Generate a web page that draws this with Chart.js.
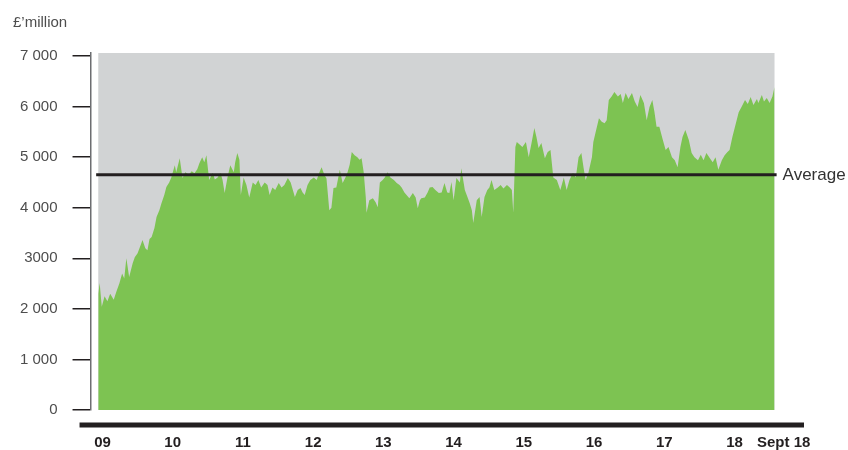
<!DOCTYPE html>
<html lang="en">
<head>
<meta charset="UTF-8">
<title>£’million</title>
<style>
  body { margin: 0; background: #fff; }
  .wrap { position: relative; width: 848px; height: 450px; }
</style>
<script src="https://cdn.jsdelivr.net/npm/chart.js"></script>
</head>
<body>
<div class="wrap">
  <canvas id="chart"></canvas>
</div>
<script>
// --- data ---
const dates = [
  2008.94, 2008.96, 2008.99, 2009.03, 2009.07, 2009.11, 2009.16, 2009.20, 2009.24, 2009.28,
  2009.31, 2009.34, 2009.38, 2009.43, 2009.46, 2009.50, 2009.54, 2009.57, 2009.61, 2009.64,
  2009.67, 2009.70, 2009.74, 2009.77, 2009.81, 2009.84, 2009.88, 2009.91, 2009.95, 2009.98,
  2010.03, 2010.05, 2010.10, 2010.14, 2010.18, 2010.23, 2010.27, 2010.31, 2010.35, 2010.38,
  2010.42, 2010.45, 2010.48, 2010.52, 2010.57, 2010.60, 2010.64, 2010.68, 2010.71, 2010.74,
  2010.78, 2010.82, 2010.87, 2010.89, 2010.92, 2010.95, 2010.97, 2011.01, 2011.05, 2011.09,
  2011.14, 2011.18, 2011.22, 2011.26, 2011.31, 2011.35, 2011.38, 2011.42, 2011.46, 2011.51,
  2011.55, 2011.59, 2011.64, 2011.68, 2011.74, 2011.78, 2011.82, 2011.85, 2011.88, 2011.92,
  2011.96, 2012.01, 2012.05, 2012.09, 2012.12, 2012.16, 2012.19, 2012.23, 2012.26, 2012.29,
  2012.33, 2012.38, 2012.42, 2012.46, 2012.49, 2012.52, 2012.55, 2012.59, 2012.63, 2012.66,
  2012.69, 2012.72, 2012.75, 2012.76, 2012.80, 2012.85, 2012.89, 2012.92, 2012.95, 2012.99,
  2013.02, 2013.06, 2013.10, 2013.15, 2013.19, 2013.23, 2013.26, 2013.30, 2013.33, 2013.37,
  2013.42, 2013.46, 2013.49, 2013.52, 2013.54, 2013.59, 2013.63, 2013.66, 2013.70, 2013.74,
  2013.79, 2013.83, 2013.87, 2013.91, 2013.94, 2013.97, 2014.00, 2014.04, 2014.09, 2014.11,
  2014.16, 2014.20, 2014.23, 2014.26, 2014.28, 2014.33, 2014.37, 2014.40, 2014.44, 2014.48,
  2014.51, 2014.54, 2014.58, 2014.63, 2014.67, 2014.71, 2014.76, 2014.80, 2014.83, 2014.85,
  2014.88, 2014.90, 2014.94, 2014.98, 2015.03, 2015.07, 2015.11, 2015.15, 2015.18, 2015.21,
  2015.25, 2015.30, 2015.34, 2015.38, 2015.42, 2015.47, 2015.52, 2015.57, 2015.61, 2015.65,
  2015.70, 2015.74, 2015.78, 2015.82, 2015.85, 2015.88, 2015.92, 2015.97, 2015.99, 2016.02,
  2016.07, 2016.11, 2016.15, 2016.18, 2016.21, 2016.25, 2016.29, 2016.34, 2016.38, 2016.41,
  2016.45, 2016.49, 2016.54, 2016.58, 2016.62, 2016.66, 2016.71, 2016.75, 2016.79, 2016.83,
  2016.86, 2016.89, 2016.93, 2016.98, 2017.02, 2017.06, 2017.11, 2017.15, 2017.19, 2017.23,
  2017.26, 2017.30, 2017.35, 2017.39, 2017.43, 2017.48, 2017.52, 2017.56, 2017.60, 2017.65,
  2017.69, 2017.73, 2017.77, 2017.82, 2017.86, 2017.90, 2017.93, 2017.97, 2018.02, 2018.06,
  2018.10, 2018.15, 2018.19, 2018.23, 2018.27, 2018.32, 2018.34, 2018.39, 2018.42, 2018.46,
  2018.50, 2018.54, 2018.57
];
const values = [
  2300, 2510, 2040, 2250, 2150, 2300, 2180, 2350, 2500, 2700,
  2600, 3000, 2630, 2900, 3020, 3100, 3250, 3360, 3200, 3160,
  3380, 3420, 3600, 3815, 3950, 4090, 4250, 4410, 4500, 4600,
  4840, 4700, 4980, 4590, 4700, 4650, 4720, 4680, 4760, 4880,
  5000, 4900, 5040, 4550, 4690, 4560, 4600, 4690, 4550, 4290,
  4600, 4840, 4700, 4900, 5080, 4950, 4250, 4600, 4450, 4200,
  4500, 4450, 4550, 4400, 4500, 4450, 4250, 4400, 4350, 4490,
  4400, 4450, 4590, 4500, 4210, 4350, 4390, 4300, 4250, 4450,
  4550, 4600, 4550, 4700, 4800, 4650, 4580, 3950, 4000, 4390,
  4400, 4750, 4490, 4600, 4700, 4850, 5100, 5040, 5000, 4950,
  4980, 4700, 4200, 3900, 4150, 4190, 4110, 4010, 4500, 4550,
  4600, 4700, 4600, 4550, 4490, 4450, 4400, 4300, 4250, 4190,
  4290, 4200, 3990, 4150, 4190, 4200, 4300, 4400, 4410, 4350,
  4290, 4300, 4490, 4300, 4290, 4510, 4150, 4590, 4500, 4780,
  4350, 4200, 4090, 3950, 3700, 4150, 4210, 3815, 4210, 4350,
  4400, 4550, 4350, 4400, 4450, 4380, 4450, 4400, 4350, 3900,
  5200, 5300, 5250, 5200, 5300, 5000, 5280, 5575, 5400, 5180,
  5280, 4980, 5100, 5140, 4600, 4550, 4350, 4600, 4350, 4550,
  4690, 4600, 5000, 5080, 4800, 4550, 4690, 5000, 5300, 5480,
  5770, 5700, 5670, 5730, 6130, 6200, 6290, 6200, 6250, 6070,
  6270, 6150, 6270, 6100, 5990, 6230, 6070, 5730, 5990, 6130,
  5900, 5600, 5600, 5340, 5140, 5200, 5000, 4940, 4800, 5200,
  5400, 5535, 5340, 5080, 5000, 4940, 5050, 4940, 5080, 4980,
  4900, 5000, 4750, 4940, 5040, 5100, 5140, 5400, 5670, 5890,
  5990, 6130, 6050, 6190, 6030, 6150, 6070, 6230, 6100, 6170,
  6070, 6200, 6390
];
const averageValue = 4650;
const averageSpan = [2008.91, 2018.60];
const panelTop = 7060;

const yTickValues = [0, 1000, 2000, 3000, 4000, 5000, 6000, 7000];
const yTickLabels = ['0', '1 000', '2 000', '3000', '4 000', '5 000', '6 000', '7 000'];
const xTickValues = [2009, 2010, 2011, 2012, 2013, 2014, 2015, 2016, 2017, 2018, 2018.7];
const xTickLabels = ['09', '10', '11', '12', '13', '14', '15', '16', '17', '18', 'Sept 18'];

const FONT = '"Liberation Sans", Arial, Helvetica, sans-serif';

// grey panel, thick baseline and the free text labels
const decorPlugin = {
  id: 'decor',
  beforeDatasetsDraw(chart) {
    const { ctx, scales: { x, y } } = chart;
    const x0 = x.getPixelForValue(dates[0]);
    const x1 = x.getPixelForValue(dates[dates.length - 1]);
    const y0 = y.getPixelForValue(panelTop);
    const y1 = y.getPixelForValue(0);
    ctx.save();
    ctx.fillStyle = '#d1d3d4';
    ctx.fillRect(x0, y0, x1 - x0, y1 - y0);
    ctx.restore();
  },
  afterDraw(chart) {
    const { ctx, chartArea, scales: { x, y } } = chart;
    ctx.save();
    const by = y.getPixelForValue(0) + 15;
    ctx.strokeStyle = '#231f20';
    ctx.lineWidth = 5;
    ctx.beginPath();
    ctx.moveTo(chartArea.left - 11, by);
    ctx.lineTo(chartArea.right, by);
    ctx.stroke();

    ctx.fillStyle = '#4d4d4d';
    ctx.font = '15px ' + FONT;
    ctx.textBaseline = 'alphabetic';
    ctx.textAlign = 'left';
    ctx.fillText('£’million', 13, 27);

    ctx.fillStyle = '#333';
    ctx.font = '17px ' + FONT;
    ctx.textBaseline = 'middle';
    ctx.fillText('Average', x.getPixelForValue(averageSpan[1]) + 6, y.getPixelForValue(averageValue));
    ctx.restore();
  }
};

new Chart(document.getElementById('chart'), {
  type: 'line',
  data: {
    datasets: [
      {
        label: 'Average',
        data: averageSpan.map(d => ({ x: d, y: averageValue })),
        borderColor: '#231f20',
        borderWidth: 3,
        pointRadius: 0,
        fill: false,
        order: 0
      },
      {
        label: '£ million',
        data: dates.map((d, i) => ({ x: d, y: values[i] })),
        borderWidth: 0,
        borderColor: 'rgba(0,0,0,0)',
        backgroundColor: '#7dc352',
        fill: 'origin',
        pointRadius: 0,
        tension: 0,
        order: 1
      }
    ]
  },
  options: {
    responsive: true,
    maintainAspectRatio: false,
    animation: false,
    layout: { padding: { left: 5, right: 44, top: 53, bottom: -25 } },
    plugins: {
      legend: { display: false },
      tooltip: { enabled: false }
    },
    scales: {
      x: {
        type: 'linear',
        min: 2008.83,
        max: 2018.99,
        grid: { display: false, drawTicks: false },
        border: { display: false },
        afterBuildTicks: s => { s.ticks = xTickValues.map(v => ({ value: v })); },
        ticks: {
          autoSkip: false,
          maxRotation: 0,
          padding: 25,
          color: '#231f20',
          font: { family: FONT, size: 15, weight: 'bold', lineHeight: 1 },
          callback: (v, i) => xTickLabels[i]
        }
      },
      y: {
        min: 0,
        max: panelTop,
        afterBuildTicks: s => { s.ticks = yTickValues.map(v => ({ value: v })); },
        grid: { drawOnChartArea: false, drawTicks: true, tickLength: 18, color: '#231f20', lineWidth: 1.5 },
        border: { color: '#6d6e71', width: 1.5 },
        ticks: {
          padding: 15,
          color: '#4d4d4d',
          font: { family: FONT, size: 15 },
          callback: (v, i) => yTickLabels[i]
        }
      }
    }
  },
  plugins: [decorPlugin]
});
</script>
</body>
</html>
